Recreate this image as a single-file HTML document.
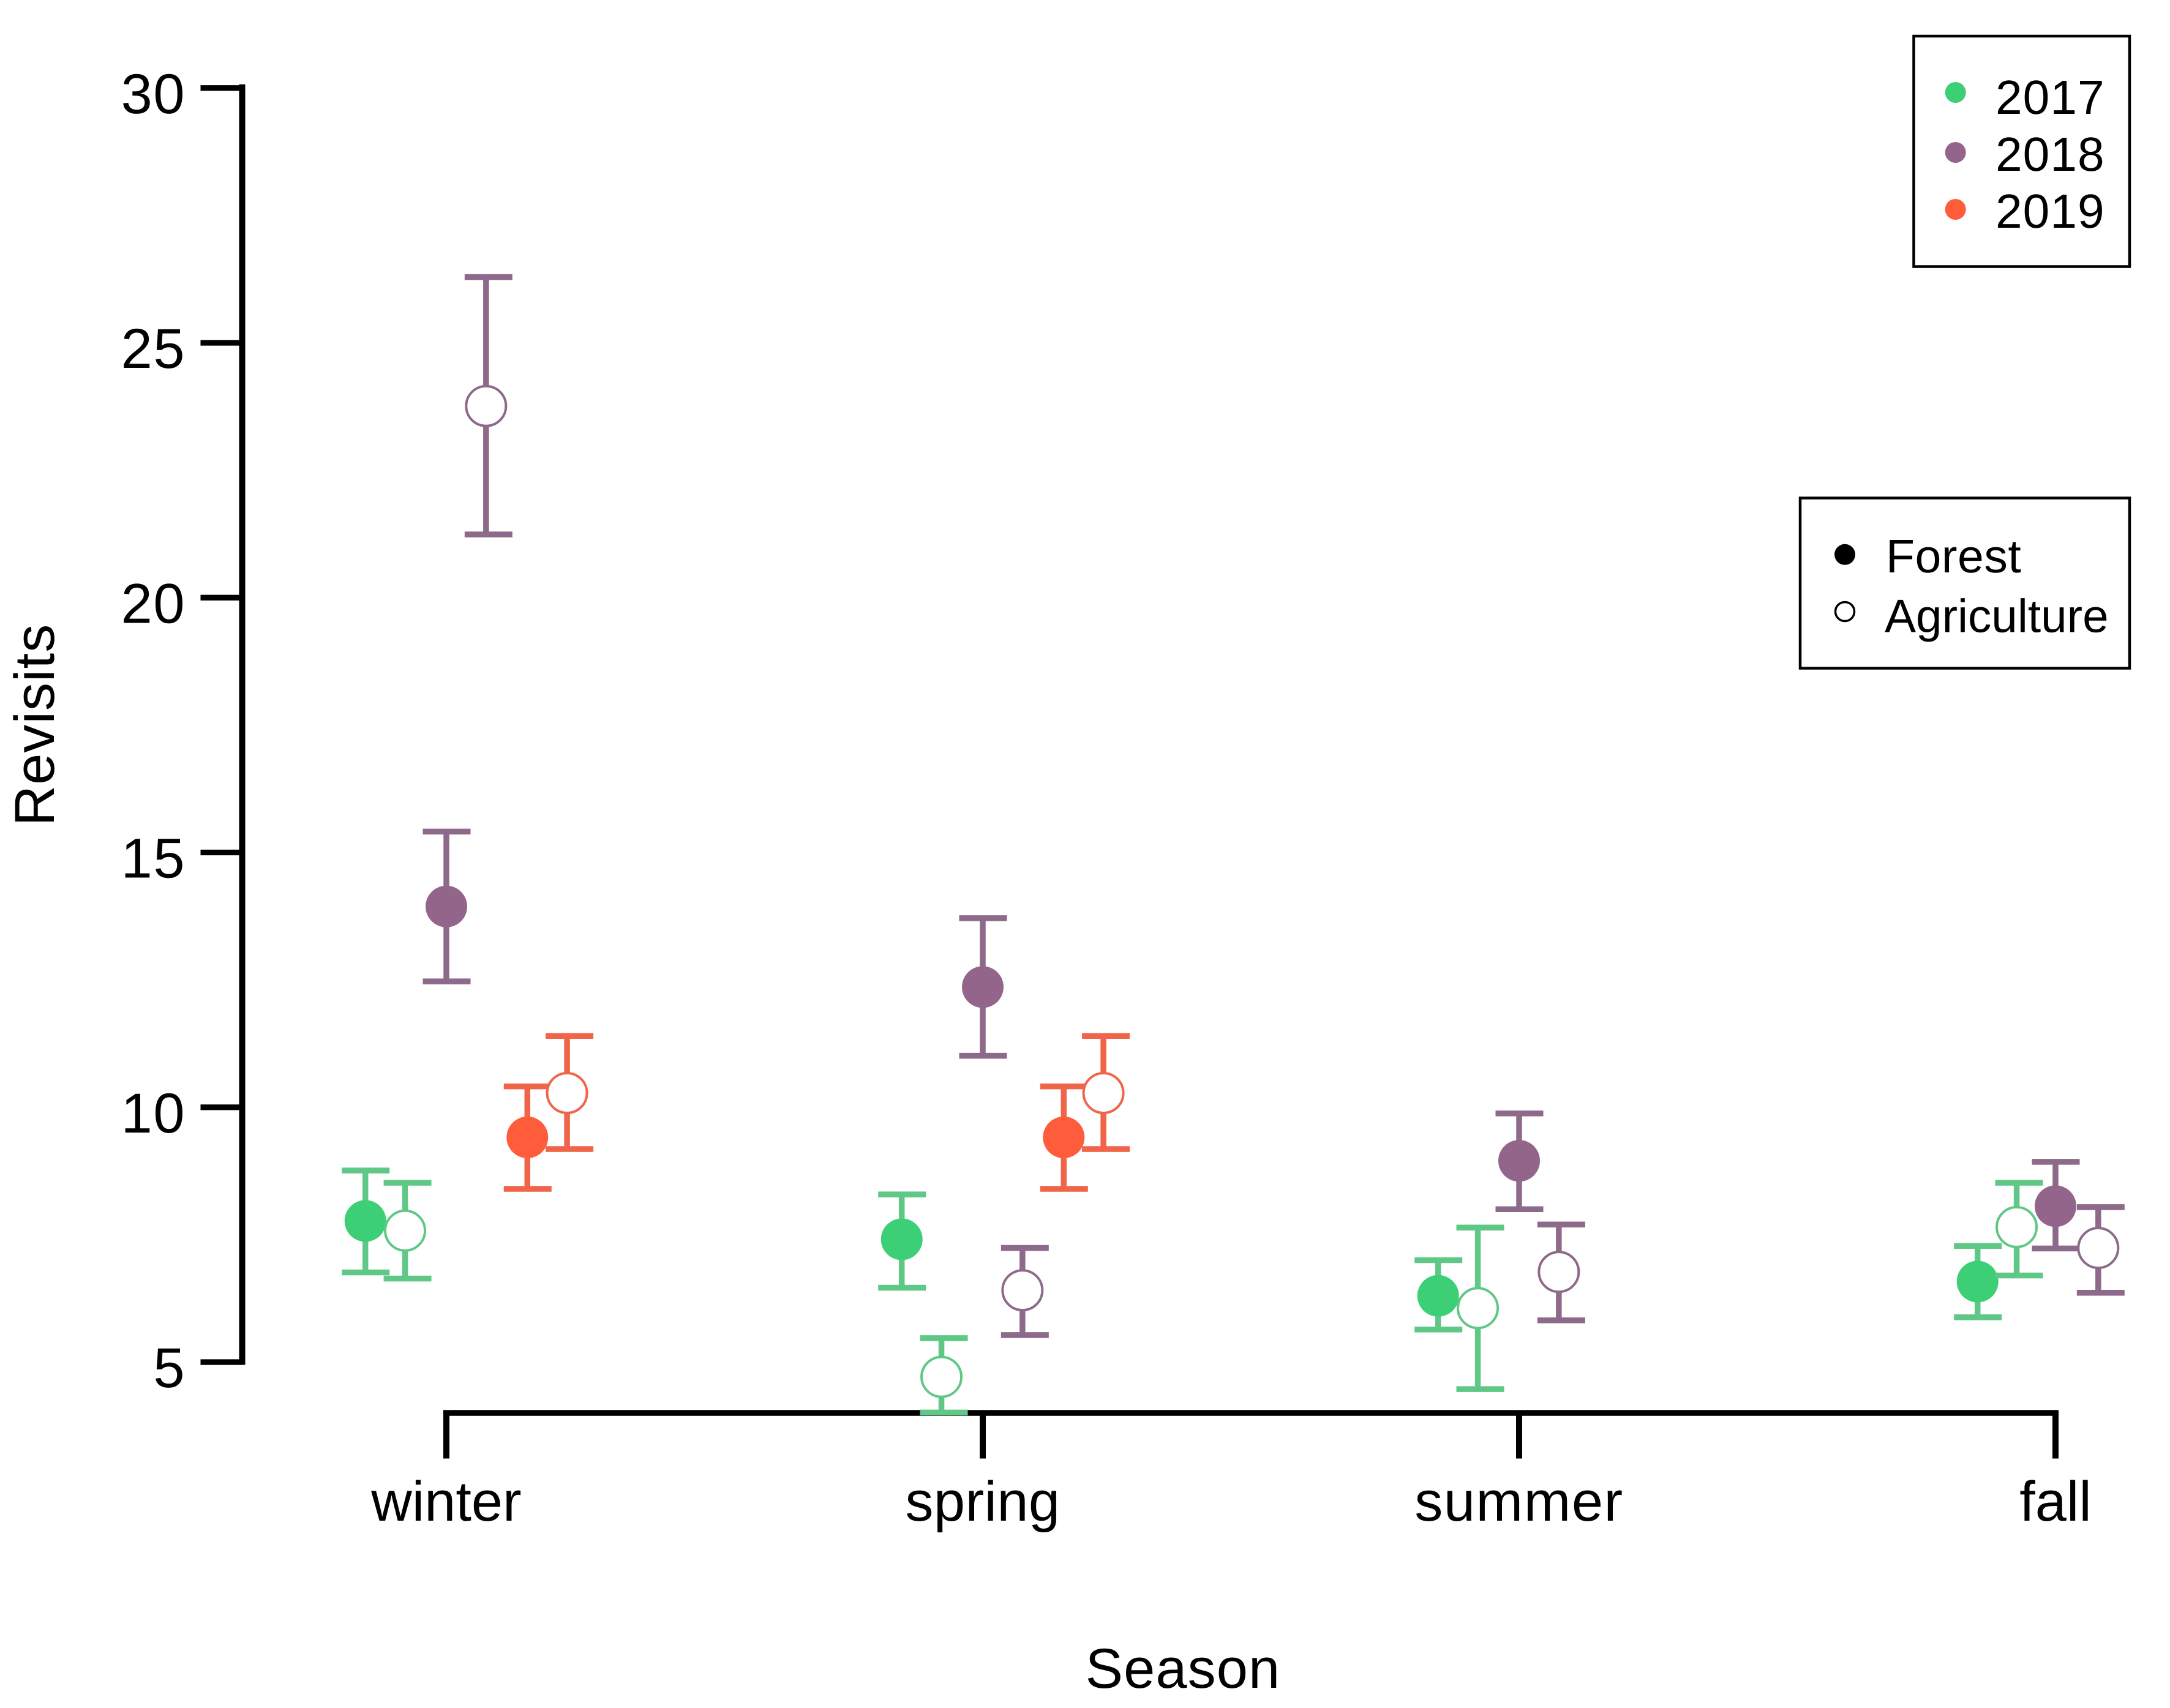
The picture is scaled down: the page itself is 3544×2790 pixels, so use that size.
<!DOCTYPE html>
<html lang="en">
<head>
<meta charset="utf-8">
<title>Revisits by season</title>
<style>
  html, body { margin: 0; padding: 0; background: #fff; }
  #chart { display: block; width: 3544px; height: 2790px; font-family: "Liberation Sans", Arial, sans-serif; fill: #000; }
  text { text-rendering: geometricPrecision; }
</style>
</head>
<body>
<svg id="chart" xmlns="http://www.w3.org/2000/svg" width="3544" height="2790" viewBox="0 0 3544 2790">
  <rect x="0" y="0" width="3544" height="2790" fill="#ffffff"/>
  <g id="axes"></g>
  <g id="marks"></g>
  <text x="1932" y="2757" font-size="92" letter-spacing="1.1" text-anchor="middle">Season</text>
  <text transform="translate(88 1184) rotate(-90)" font-size="92" letter-spacing="1.1" text-anchor="middle">Revisits</text>

  <g>
    <rect x="3125.5" y="59" width="352.5" height="376.5" fill="#fff" stroke="#000" stroke-width="4.5"/>
    <circle cx="3193.7" cy="151" r="17" fill="#3ccf76"/>
    <circle cx="3193.7" cy="249" r="17" fill="#93658b"/>
    <circle cx="3193.7" cy="342" r="17" fill="#ff5c3c"/>
    <text x="3259" y="186" font-size="78.5" letter-spacing="1">2017</text>
    <text x="3259" y="279" font-size="78.5" letter-spacing="1">2018</text>
    <text x="3259" y="372" font-size="78.5" letter-spacing="1">2019</text>
  </g>
  <g>
    <rect x="2940" y="813.5" width="538" height="278" fill="#fff" stroke="#000" stroke-width="4.5"/>
    <circle cx="3013" cy="905.8" r="17" fill="#000"/>
    <circle cx="3013" cy="999" r="15.5" fill="#fff" stroke="#000" stroke-width="3.5"/>
    <text x="3080" y="935" font-size="77" letter-spacing="0.5">Forest</text>
    <text x="3078" y="1032.5" font-size="76.5">Agriculture</text>
  </g>
</svg>

<script>
// Chart data
const seasons = ['winter', 'spring', 'summer', 'fall'];
const yTickValues = [5, 10, 15, 20, 25, 30];

const forest2017Mean  = [7.77, 7.41, 6.30, 6.58];
const forest2017Lower = [6.76, 6.46, 5.64, 5.88];
const forest2017Upper = [8.76, 8.29, 7.00, 7.28];

const agri2017Mean  = [7.58, 4.71, 6.06, 7.65];
const agri2017Lower = [6.64, 4.01, 4.47, 6.70];
const agri2017Upper = [8.52, 5.47, 7.64, 8.52];

const forest2018Mean  = [13.94, 12.36, 8.95, 8.06];
const forest2018Lower = [12.47, 11.01, 8.00, 7.23];
const forest2018Upper = [15.41, 13.71, 9.88, 8.93];

const agri2018Mean  = [23.76, 6.41, 6.77, 7.24];
const agri2018Lower = [21.24, 5.53, 5.82, 6.36];
const agri2018Upper = [26.29, 7.24, 7.70, 8.04];

const forest2019Mean  = [9.41, 9.41, null, null];
const forest2019Lower = [8.40, 8.40, null, null];
const forest2019Upper = [10.41, 10.41, null, null];

const agri2019Mean  = [10.28, 10.28, null, null];
const agri2019Lower = [9.18, 9.18, null, null];
const agri2019Upper = [11.40, 11.40, null, null];

// Axis functions
function yScale(v) { return 143.75 + (30 - v) * 83.25; }
function xScale(i) { return 729 + i * 876; }

const NS = 'http://www.w3.org/2000/svg';
const axes = document.getElementById('axes');
const marks = document.getElementById('marks');

function make(tag, attrs, parent) {
  const el = document.createElementNS(NS, tag);
  for (const k in attrs) el.setAttribute(k, attrs[k]);
  parent.appendChild(el);
  return el;
}

// Y axis
const yLine = make('line', { x1: 395.5, x2: 395.5, y1: yScale(30) - 6, y2: yScale(5) + 4.5, stroke: '#000', 'stroke-width': 10 }, axes);



yTickValues.forEach(function (t) {
  const tick = make('line', { x1: 327.5, x2: 396, y1: yScale(t), y2: yScale(t), stroke: '#000', 'stroke-width': 9.3 }, axes);
  
  
  const label = make('text', { x: 303, y: yScale(t) + 41, 'font-size': 92, 'letter-spacing': 1.5, 'text-anchor': 'end' }, axes);
  label.textContent = String(t);
  
  
});

// X axis
const xLine = make('line', { x1: xScale(0) - 5, x2: xScale(seasons.length - 1) + 5, y1: 2308, y2: 2308, stroke: '#000', 'stroke-width': 9.5 }, axes);



seasons.forEach(function (s, i) {
  const tick = make('line', { x1: xScale(i), x2: xScale(i), y1: 2308, y2: 2382.5, stroke: '#000', 'stroke-width': 10 }, axes);
  
  
  const spacing = s === 'summer' ? 1.5 : (s === 'spring' ? 0.4 : 0);
  const label = make('text', { x: xScale(i), y: 2484, 'font-size': 92, 'letter-spacing': spacing, 'text-anchor': 'middle' }, axes);
  label.textContent = s;
  
  
});

// One error-bar mark: whisker, two caps, circle
function drawPoint(i, dodge, nudge, mean, lower, upper, colour, barColour, open, name) {
  if (mean === null) return;
  const cx = xScale(i + dodge) + nudge;
  const capShift = open ? 4 : 0.5;
  const g = make('g', {}, marks);
  
  

  const stem = make('line', { x1: cx, x2: cx, y1: yScale(upper), y2: yScale(lower), stroke: barColour, 'stroke-width': 9.5 }, g);
  
  

  const capTop = make('line', { x1: cx + capShift - 39, x2: cx + capShift + 39, y1: yScale(upper), y2: yScale(upper), stroke: barColour, 'stroke-width': 9.5 }, g);
  
  

  const capLow = make('line', { x1: cx + capShift - 39, x2: cx + capShift + 39, y1: yScale(lower), y2: yScale(lower), stroke: barColour, 'stroke-width': 9.5 }, g);
  
  

  const attrs = open
    ? { cx: cx, cy: yScale(mean), r: 32.5, fill: '#ffffff', stroke: barColour, 'stroke-width': 4 }
    : { cx: cx, cy: yScale(mean), r: 34, fill: colour };
  const dot = make('circle', attrs, g);
  
  
}

const green = '#3ccf76', greenBar = '#5fc886';
const purple = '#93658b', purpleBar = '#8d6a8a';
const orange = '#ff5c3c', orangeBar = '#f0654a';
const agriShift = 0.074;

seasons.forEach(function (s, i) {
  const fall = s === 'fall';
  drawPoint(i, -0.151, fall ? 5 : 0, forest2017Mean[i], forest2017Lower[i], forest2017Upper[i], green, greenBar, false, 'forest-2017-' + s);
  drawPoint(i, -0.151 + agriShift, fall ? 4 : 0, agri2017Mean[i], agri2017Lower[i], agri2017Upper[i], green, greenBar, true, 'agriculture-2017-' + s);
  drawPoint(i, 0, 0, forest2018Mean[i], forest2018Lower[i], forest2018Upper[i], purple, purpleBar, false, 'forest-2018-' + s);
  drawPoint(i, agriShift, fall ? 5 : 0, agri2018Mean[i], agri2018Lower[i], agri2018Upper[i], purple, purpleBar, true, 'agriculture-2018-' + s);
  drawPoint(i, 0.151, 0, forest2019Mean[i], forest2019Lower[i], forest2019Upper[i], orange, orangeBar, false, 'forest-2019-' + s);
  drawPoint(i, 0.151 + agriShift, 0, agri2019Mean[i], agri2019Lower[i], agri2019Upper[i], orange, orangeBar, true, 'agriculture-2019-' + s);
});
</script>
</body>
</html>
